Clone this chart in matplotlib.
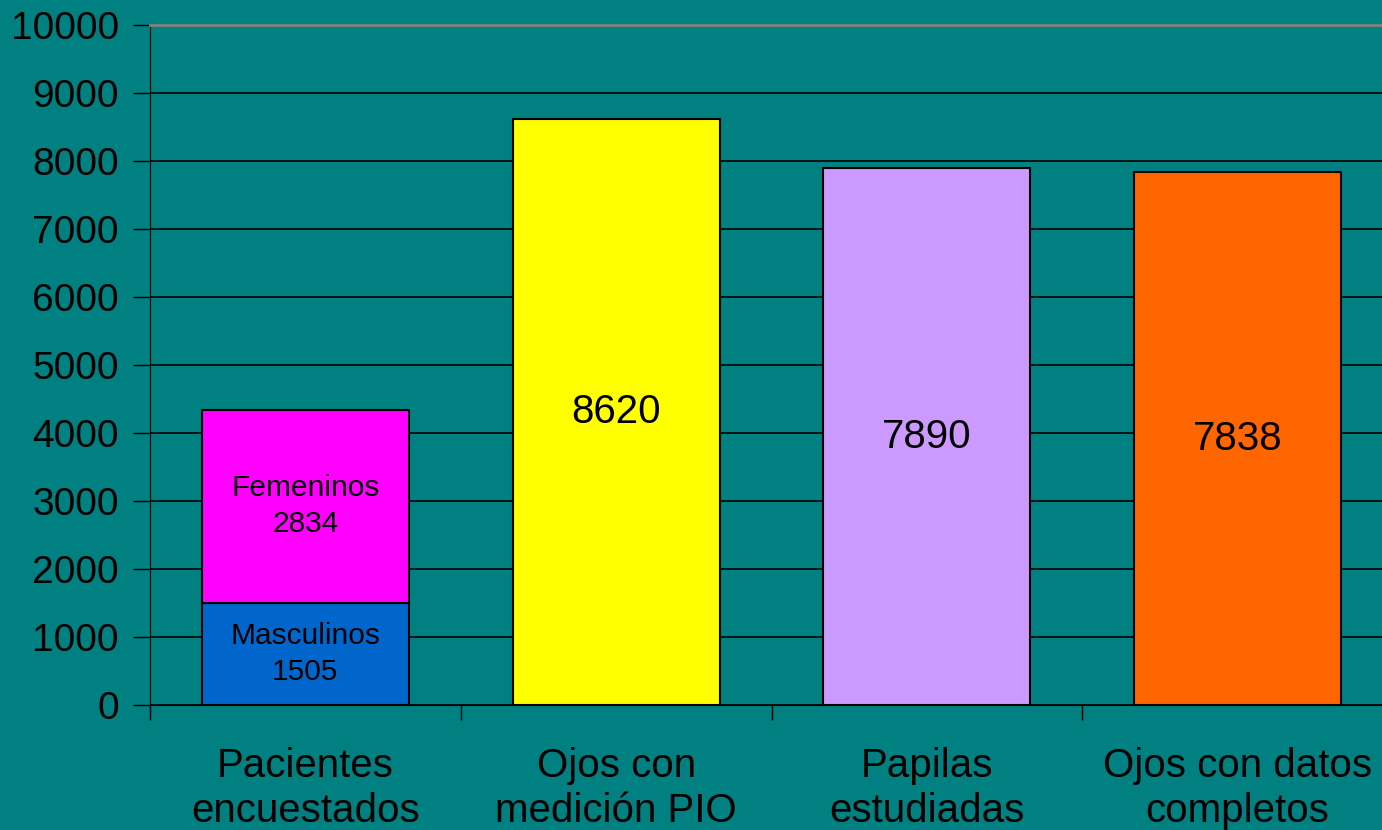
import matplotlib.pyplot as plt
import numpy as np

# data
categories = ['Pacientes\nencuestados', 'Ojos con\nmedición PIO',
              'Papilas\nestudiadas', 'Ojos con datos\ncompletos']
masculinos = 1505
femeninos = 2834
single_values = [8620, 7890, 7838]
single_colors = ['#FFFF00', '#CC99FF', '#FF6600']
yticks = np.arange(0, 10001, 1000)

bg = '#008080'
plt.rcParams['font.family'] = ['Liberation Sans', 'DejaVu Sans']

fig = plt.figure(figsize=(13.82, 8.30), dpi=100)
fig.set_facecolor(bg)
ax = fig.add_axes([150 / 1382, 125 / 830, 1243 / 1382, 680 / 830])
ax.set_facecolor(bg)

x = np.arange(len(categories))
w = 0.666

# stacked first bar
ax.bar(x[0], masculinos, width=w, color='#0066CC', edgecolor='black', linewidth=1.5, zorder=3)
ax.bar(x[0], femeninos, width=w, bottom=masculinos, color='#FF00FF',
       edgecolor='black', linewidth=1.5, zorder=3)
ax.text(x[0], masculinos / 2, 'Masculinos\n%d' % masculinos, ha='center', va='center',
        fontsize=21.5, linespacing=1.35, zorder=4)
ax.text(x[0], masculinos + femeninos / 2, 'Femeninos\n%d' % femeninos, ha='center',
        va='center', fontsize=21.5, linespacing=1.35, zorder=4)

# the other bars
for i, (v, c) in enumerate(zip(single_values, single_colors)):
    ax.bar(x[i + 1], v, width=w, color=c, edgecolor='black', linewidth=1.5, zorder=3)
    ax.text(x[i + 1], v / 2, str(v), ha='center', va='center', fontsize=29, zorder=4)

ax.set_xlim(-0.5, len(categories) - 0.5)
ax.set_ylim(0, 10000)
ax.set_yticks(yticks)
ax.set_yticklabels([str(t) for t in yticks], fontsize=28)
ax.yaxis.grid(True, color='black', linewidth=1.2, zorder=0)
ax.set_axisbelow(True)

# category ticks sit on boundaries, labels centred under bars
ax.set_xticks(np.arange(-0.5, len(categories), 1.0))
ax.set_xticklabels([])
ax.set_xticks(x, minor=True)
ax.set_xticklabels(categories, minor=True, fontsize=29, linespacing=1.25)
ax.tick_params(axis='x', which='minor', length=0, pad=30)
ax.tick_params(axis='x', which='major', length=11, width=1, color='black', direction='out')
ax.tick_params(axis='y', length=12, width=1, color='black', direction='out', pad=10.5)

ax.spines['top'].set_color('#808080')
ax.spines['top'].set_linewidth(2)
ax.spines['right'].set_visible(False)
ax.spines['left'].set_color('black')
ax.spines['bottom'].set_color('black')

plt.savefig('out.png', facecolor=bg)
